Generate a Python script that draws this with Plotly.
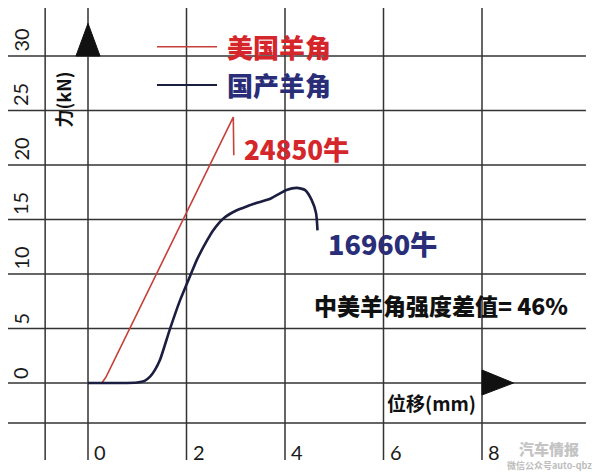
import plotly.graph_objects as go

# ---- data ----
us_x = [0, 0.28, 0.36, 2.95, 2.96]
us_y = [0, 0, 0.5, 24.4, 20.9]

cn_x = [0, 0.6, 1.0, 1.15, 1.26, 1.36, 1.46, 1.66, 1.87, 2.09, 2.21, 2.42, 2.54,
        2.75, 3.0, 3.22, 3.45, 3.70, 4.03, 4.24, 4.41, 4.54, 4.63, 4.66]
cn_y = [0, 0, 0.05, 0.2, 0.58, 1.2, 2.1, 4.9, 7.6, 10.0, 11.3, 13.1, 14.0,
        15.1, 15.8, 16.2, 16.55, 16.9, 17.7, 17.9, 17.7, 16.8, 15.6, 14.0]

x_ticks = [0, 2, 4, 6, 8]
x_tick_labels = ["0", "2", "4", "6", "8"]
y_ticks = [0, 5, 10, 15, 20, 25, 30]
y_tick_labels = ["0", "5", "10", "15", "20", "25", "30"]

series_names = ["美国羊角", "国产羊角"]
peak_labels = ["24850牛", "16960牛"]
diff_label = "中美羊角强度差值= 46%"
x_title = "位移(mm)"
y_title = "力(kN)"

# ---- layout geometry (axis units); page has an 8px body margin ----
W, H = 592, 467
PX_PER_X = 49.25
PX_PER_Y = 10.9
X0_PX, Y0_PX = 80, 375          # where x=0 / y=0 fall inside the figure
X_MIN, X_MAX = -X0_PX / PX_PER_X, (W - X0_PX) / PX_PER_X
Y_MIN, Y_MAX = -(H - Y0_PX) / PX_PER_Y, Y0_PX / PX_PER_Y
LEFT_BORDER = -0.87
BOTTOM_LINE = -3.67
V_TOP, V_BOT = 34.7, -7.06
H_LEFT, H_RIGHT = -1.645, 10.11

RED = "#d5262b"
RED_LINE = "#c8403a"
NAVY = "#2a2e78"
NAVY_LINE = "#1b1e40"
GRID = "#333333"
CJK = "Noto Sans CJK SC"
NUM = "Lato, Liberation Sans"

fig = go.Figure()
fig.add_trace(go.Scatter(x=us_x, y=us_y, mode="lines", name=series_names[0],
                         line=dict(color=RED_LINE, width=1.6), showlegend=False))
fig.add_trace(go.Scatter(x=cn_x, y=cn_y, mode="lines", name=series_names[1],
                         line=dict(color=NAVY_LINE, width=2.6, shape="spline", smoothing=0.6),
                         showlegend=False))

shapes = []
for xv in [LEFT_BORDER] + x_ticks:
    shapes.append(dict(type="line", xref="x", yref="y", x0=xv, x1=xv, y0=V_BOT, y1=V_TOP,
                       line=dict(color=GRID, width=1.5), layer="below"))
for yv in y_ticks + [BOTTOM_LINE]:
    shapes.append(dict(type="line", xref="x", yref="y", x0=H_LEFT, x1=H_RIGHT, y0=yv, y1=yv,
                       line=dict(color=GRID, width=1.5), layer="below"))
# arrows
shapes.append(dict(type="path", xref="x", yref="y",
                   path="M -0.244 30 L 0.244 30 L 0 33.0 Z",
                   fillcolor="#111111", line=dict(color="#111111", width=1)))
shapes.append(dict(type="path", xref="x", yref="y",
                   path="M 8 1.19 L 8 -1.1 L 8.64 0 Z",
                   fillcolor="#111111", line=dict(color="#111111", width=1)))
# legend lines
shapes.append(dict(type="line", xref="x", yref="y", x0=1.40, x1=2.62, y0=30.85, y1=30.85,
                   line=dict(color=RED_LINE, width=1.6)))
shapes.append(dict(type="line", xref="x", yref="y", x0=1.40, x1=2.62, y0=27.34, y1=27.34,
                   line=dict(color=NAVY_LINE, width=1.8)))

ann = []
for v, t in zip(y_ticks, y_tick_labels):
    ann.append(dict(x=-1.38, y=v, text=t, textangle=-90, showarrow=False,
                    xanchor="center", yanchor="bottom", yshift=2,
                    font=dict(family=NUM, size=20, color="#1a1a1a")))
for v, t in zip(x_ticks, x_tick_labels):
    ann.append(dict(x=v, y=-6.33, text=t, showarrow=False, xanchor="left", yanchor="middle",
                    xshift=4, font=dict(family=NUM, size=20, color="#1a1a1a")))

ann.append(dict(x=2.78, y=30.85, text=series_names[0], showarrow=False,
                xanchor="left", yanchor="middle", font=dict(family=CJK, size=26, color=RED, weight=900)))
ann.append(dict(x=2.78, y=27.34, text=series_names[1], showarrow=False,
                xanchor="left", yanchor="middle", font=dict(family=CJK, size=26, color=NAVY, weight=900)))
ann.append(dict(x=3.12, y=21.5, text=peak_labels[0], showarrow=False,
                xanchor="left", yanchor="middle", font=dict(family=CJK, size=26, color=RED, weight=900)))
ann.append(dict(x=4.83, y=12.8, text=peak_labels[1], showarrow=False,
                xanchor="left", yanchor="middle", font=dict(family=CJK, size=27, color=NAVY, weight=900)))
ann.append(dict(x=4.55, y=7.16, text=diff_label, showarrow=False,
                xanchor="left", yanchor="middle", font=dict(family=CJK, size=23, color="#111111", weight=900)))
ann.append(dict(x=7.92, y=-1.83, text=x_title, showarrow=False,
                xanchor="right", yanchor="middle", font=dict(family=CJK, size=19, color="#111111", weight=700)))
ann.append(dict(x=-0.51, y=26.0, text=y_title, textangle=-90, showarrow=False,
                xanchor="center", yanchor="middle", font=dict(family=CJK, size=18, color="#111111", weight=700)))
# watermark
ann.append(dict(x=0.914, y=0.056, xref="paper", yref="paper", text="汽车情报", showarrow=False,
                xanchor="center", yanchor="middle",
                font=dict(family=CJK, size=15, color="#c4c4c4", weight=900)))
ann.append(dict(x=0.914, y=0.021, xref="paper", yref="paper", text="微信公众号auto-qbz", showarrow=False,
                xanchor="center", yanchor="middle",
                font=dict(family=CJK, size=9, color="#bdbdbd", weight=700)))

fig.update_layout(
    width=W, height=H, autosize=False,
    margin=dict(l=0, r=0, t=0, b=0),
    paper_bgcolor="white", plot_bgcolor="white",
    xaxis=dict(range=[X_MIN, X_MAX], visible=False, fixedrange=True),
    yaxis=dict(range=[Y_MIN, Y_MAX], visible=False, fixedrange=True),
    shapes=shapes, annotations=ann, showlegend=False,
)

fig.write_html("out.html")
